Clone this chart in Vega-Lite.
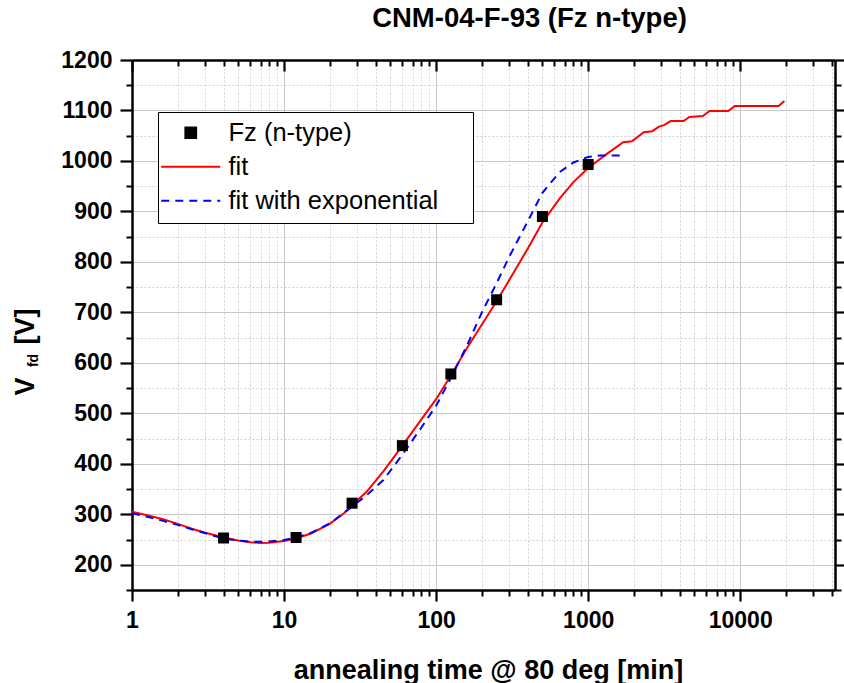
{
  "$schema": "https://vega.github.io/schema/vega-lite/v6.json",
  "width": 703,
  "height": 530,
  "autosize": {"type": "none"},
  "padding": {"left": 132, "top": 60, "right": 9, "bottom": 93},
  "background": "white",
  "title": {"text": "CNM-04-F-93 (Fz n-type)", "font": "Liberation Sans", "fontSize": 27.5, "fontWeight": "bold", "color": "black", "anchor": "middle", "dx": 46, "offset": -5, "frame": "group", "baseline": "alphabetic"},
  "config": {"view": {"stroke": null}},
  "data": {"values": [
    {"series": "Fz (n-type)", "t": 4, "v": 253},
    {"series": "Fz (n-type)", "t": 12, "v": 254},
    {"series": "Fz (n-type)", "t": 28, "v": 322},
    {"series": "Fz (n-type)", "t": 60, "v": 436},
    {"series": "Fz (n-type)", "t": 125, "v": 578},
    {"series": "Fz (n-type)", "t": 250, "v": 725},
    {"series": "Fz (n-type)", "t": 500, "v": 890},
    {"series": "Fz (n-type)", "t": 1000, "v": 993},
    {"series": "fit", "t": 1, "v": 305},
    {"series": "fit", "t": 1.3, "v": 297},
    {"series": "fit", "t": 1.6, "v": 290},
    {"series": "fit", "t": 2, "v": 281},
    {"series": "fit", "t": 2.5, "v": 271},
    {"series": "fit", "t": 3, "v": 264},
    {"series": "fit", "t": 4, "v": 254},
    {"series": "fit", "t": 5, "v": 248},
    {"series": "fit", "t": 6, "v": 244.5},
    {"series": "fit", "t": 7, "v": 243},
    {"series": "fit", "t": 8, "v": 243.5},
    {"series": "fit", "t": 10, "v": 247},
    {"series": "fit", "t": 12, "v": 252},
    {"series": "fit", "t": 15, "v": 262},
    {"series": "fit", "t": 20, "v": 281},
    {"series": "fit", "t": 25, "v": 303},
    {"series": "fit", "t": 28, "v": 318},
    {"series": "fit", "t": 35, "v": 345},
    {"series": "fit", "t": 45, "v": 385},
    {"series": "fit", "t": 60, "v": 436},
    {"series": "fit", "t": 80, "v": 488},
    {"series": "fit", "t": 100, "v": 528},
    {"series": "fit", "t": 125, "v": 575},
    {"series": "fit", "t": 160, "v": 630},
    {"series": "fit", "t": 200, "v": 676},
    {"series": "fit", "t": 250, "v": 722},
    {"series": "fit", "t": 300, "v": 762},
    {"series": "fit", "t": 400, "v": 826},
    {"series": "fit", "t": 500, "v": 878},
    {"series": "fit", "t": 650, "v": 926},
    {"series": "fit", "t": 800, "v": 958},
    {"series": "fit", "t": 1000, "v": 986},
    {"series": "fit", "t": 1300, "v": 1012},
    {"series": "fit", "t": 1700, "v": 1037},
    {"series": "fit", "t": 1940, "v": 1039},
    {"series": "fit", "t": 2320, "v": 1057},
    {"series": "fit", "t": 2640, "v": 1059},
    {"series": "fit", "t": 2920, "v": 1068},
    {"series": "fit", "t": 3150, "v": 1071},
    {"series": "fit", "t": 3490, "v": 1079},
    {"series": "fit", "t": 4250, "v": 1079},
    {"series": "fit", "t": 4630, "v": 1087},
    {"series": "fit", "t": 5680, "v": 1089},
    {"series": "fit", "t": 6290, "v": 1099},
    {"series": "fit", "t": 8340, "v": 1099},
    {"series": "fit", "t": 9230, "v": 1109},
    {"series": "fit", "t": 17900, "v": 1109},
    {"series": "fit", "t": 19500, "v": 1119},
    {"series": "fit with exponential", "t": 1, "v": 302},
    {"series": "fit with exponential", "t": 1.3, "v": 294},
    {"series": "fit with exponential", "t": 1.6, "v": 287},
    {"series": "fit with exponential", "t": 2, "v": 279},
    {"series": "fit with exponential", "t": 2.5, "v": 270},
    {"series": "fit with exponential", "t": 3, "v": 263},
    {"series": "fit with exponential", "t": 4, "v": 252},
    {"series": "fit with exponential", "t": 5, "v": 248},
    {"series": "fit with exponential", "t": 6, "v": 246},
    {"series": "fit with exponential", "t": 7, "v": 245.5},
    {"series": "fit with exponential", "t": 8, "v": 246},
    {"series": "fit with exponential", "t": 10, "v": 249},
    {"series": "fit with exponential", "t": 12, "v": 254},
    {"series": "fit with exponential", "t": 15, "v": 263},
    {"series": "fit with exponential", "t": 20, "v": 282},
    {"series": "fit with exponential", "t": 28, "v": 315},
    {"series": "fit with exponential", "t": 35, "v": 338},
    {"series": "fit with exponential", "t": 45, "v": 368},
    {"series": "fit with exponential", "t": 60, "v": 418},
    {"series": "fit with exponential", "t": 80, "v": 472},
    {"series": "fit with exponential", "t": 100, "v": 515},
    {"series": "fit with exponential", "t": 125, "v": 570},
    {"series": "fit with exponential", "t": 160, "v": 635},
    {"series": "fit with exponential", "t": 200, "v": 700},
    {"series": "fit with exponential", "t": 250, "v": 758},
    {"series": "fit with exponential", "t": 300, "v": 808},
    {"series": "fit with exponential", "t": 400, "v": 880},
    {"series": "fit with exponential", "t": 500, "v": 937},
    {"series": "fit with exponential", "t": 650, "v": 978},
    {"series": "fit with exponential", "t": 800, "v": 997},
    {"series": "fit with exponential", "t": 1000, "v": 1008},
    {"series": "fit with exponential", "t": 1200, "v": 1011},
    {"series": "fit with exponential", "t": 1750, "v": 1011}
  ]},
  "resolve": {"axis": {"x": "independent", "y": "independent"}},
  "layer": [
    {
      "transform": [{"filter": "datum.series === 'fit'"}],
      "mark": {"type": "line", "strokeWidth": 2},
      "encoding": {
        "x": {"field": "t", "type": "quantitative",
          "scale": {"type": "log", "domain": [1, 42000], "nice": false},
          "axis": {
            "orient": "bottom",
            "values": [1, 10, 100, 1000, 10000],
            "labelFont": "Liberation Sans", "labelFontSize": 23, "labelFontWeight": "bold", "labelColor": "black",
            "labelBaseline": "alphabetic", "labelPadding": 26, "labelFlush": false, "labelOverlap": false, "labelBound": false,
            "format": "d",
            "tickSize": 11, "tickWidth": 2.2, "tickColor": "black",
            "domainColor": "black", "domainWidth": 2.5,
            "grid": true, "gridColor": "#c8c8c8", "gridWidth": 1,
            "title": "annealing time @ 80 deg [min]", "titleFont": "Liberation Sans", "titleFontSize": 27, "titleFontWeight": "bold", "titleColor": "black",
            "titleX": 356, "titleY": 88, "titleAlign": "center", "titleBaseline": "alphabetic"
          }},
        "y": {"field": "v", "type": "quantitative",
          "scale": {"domain": [150, 1200], "nice": false, "zero": false},
          "axis": {
            "orient": "left",
            "values": [200, 300, 400, 500, 600, 700, 800, 900, 1000, 1100, 1200],
            "labelFont": "Liberation Sans", "labelFontSize": 23, "labelFontWeight": "bold", "labelColor": "black",
            "labelPadding": 8, "labelFlush": false, "labelOverlap": false, "labelBound": false, "labelBaseline": "middle",
            "format": "d",
            "tickSize": 12, "tickWidth": 2.2, "tickColor": "black",
            "domainColor": "black", "domainWidth": 2.5,
            "grid": true, "gridColor": "#c8c8c8", "gridWidth": 1,
            "title": "V", "titleFont": "Liberation Sans", "titleFontSize": 27, "titleFontWeight": "bold", "titleColor": "black",
            "titleX": -99, "titleY": 326, "titleAngle": -90, "titleAlign": "center", "titleBaseline": "alphabetic"
          }},
        "color": {"field": "series", "type": "nominal",
          "scale": {"domain": ["Fz (n-type)", "fit", "fit with exponential"], "range": ["black", "red", "blue"]},
          "legend": {
            "title": null, "orient": "none", "legendX": 26, "legendY": 52,
            "strokeColor": "black", "fillColor": "white", "padding": 8,
            "labelFont": "Liberation Sans", "labelFontSize": 25.5, "labelColor": "black", "labelLimit": 500,
            "labelExpr": "datum.label + '\u00a0\u2800'",
            "symbolSize": 115, "symbolStrokeWidth": 2, "symbolOffset": 12, "labelOffset": 25, "rowPadding": 7,
            "encode": {"symbols": {"update": {
              "shape": {"signal": "datum.value === 'Fz (n-type)' ? 'square' : 'M-5.5,0H5.5'"},
              "fill": {"signal": "datum.value === 'Fz (n-type)' ? 'black' : 'transparent'"},
              "stroke": {"signal": "datum.value === 'fit' ? 'red' : (datum.value === 'fit with exponential' ? 'blue' : 'transparent')"},
              "strokeDash": {"signal": "datum.value === 'fit with exponential' ? [8, 6] : [1, 0]"},
              "strokeWidth": {"value": 2},
              "opacity": {"value": 1}
            }}}
          }}
      }
    },
    {
      "transform": [{"filter": "datum.series === 'fit with exponential'"}],
      "mark": {"type": "line", "strokeWidth": 2, "strokeDash": [8, 6]},
      "encoding": {
        "x": {"field": "t", "type": "quantitative",
          "axis": {
            "orient": "bottom",
            "values": [2,3,4,5,6,7,8,9,20,30,40,50,60,70,80,90,200,300,400,500,600,700,800,900,2000,3000,4000,5000,6000,7000,8000,9000,20000,30000,40000],
            "labels": false, "domain": false, "title": null,
            "tickSize": 6, "tickWidth": 2, "tickColor": "black",
            "grid": true, "gridColor": "#d0d0d0", "gridWidth": 1, "gridDash": [2, 2]
          }},
        "y": {"field": "v", "type": "quantitative",
          "axis": {
            "orient": "left",
            "values": [150, 250, 350, 450, 550, 650, 750, 850, 950, 1050, 1150],
            "labels": false, "domain": false,
            "tickSize": 6, "tickWidth": 2, "tickColor": "black",
            "grid": true, "gridColor": "#d0d0d0", "gridWidth": 1, "gridDash": [2, 2],
            "title": "fd", "titleFont": "Liberation Sans", "titleFontSize": 14, "titleFontWeight": "bold", "titleColor": "black",
            "titleX": -95, "titleY": 300, "titleAngle": -90, "titleAlign": "center", "titleBaseline": "alphabetic"
          }},
        "color": {"field": "series", "type": "nominal"}
      }
    },
    {
      "transform": [{"filter": "datum.series === 'Fz (n-type)'"}],
      "mark": {"type": "square", "size": 121, "opacity": 1},
      "encoding": {
        "x": {"field": "t", "type": "quantitative",
          "axis": {
            "orient": "top",
            "values": [1, 10, 100, 1000, 10000],
            "labels": false, "grid": false, "title": null,
            "tickSize": -11, "tickWidth": 2.2, "tickColor": "black",
            "domainColor": "black", "domainWidth": 2.5
          }},
        "y": {"field": "v", "type": "quantitative",
          "axis": {
            "orient": "right",
            "values": [200, 300, 400, 500, 600, 700, 800, 900, 1000, 1100, 1200],
            "labels": false, "grid": false,
            "tickSize": 12, "tickWidth": 2.2, "tickColor": "black",
            "domainColor": "black", "domainWidth": 2.5,
            "title": "[V]", "titleFont": "Liberation Sans", "titleFontSize": 27, "titleFontWeight": "bold", "titleColor": "black",
            "titleX": -802, "titleY": 266, "titleAngle": -90, "titleAlign": "center", "titleBaseline": "alphabetic"
          }},
        "color": {"field": "series", "type": "nominal"}
      }
    },
    {
      "transform": [{"filter": "datum.series === 'Fz (n-type)'"}],
      "mark": {"type": "point", "opacity": 0},
      "encoding": {
        "x": {"field": "t", "type": "quantitative",
          "axis": {
            "orient": "top",
            "values": [2,3,4,5,6,7,8,9,20,30,40,50,60,70,80,90,200,300,400,500,600,700,800,900,2000,3000,4000,5000,6000,7000,8000,9000,20000,30000,40000],
            "labels": false, "grid": false, "domain": false, "title": null,
            "tickSize": -6, "tickWidth": 2, "tickColor": "black"
          }},
        "y": {"field": "v", "type": "quantitative",
          "axis": {
            "orient": "right",
            "values": [150, 250, 350, 450, 550, 650, 750, 850, 950, 1050, 1150],
            "labels": false, "grid": false, "domain": false, "title": null,
            "tickSize": 6, "tickWidth": 2, "tickColor": "black"
          }}
      }
    }
  ]
}
